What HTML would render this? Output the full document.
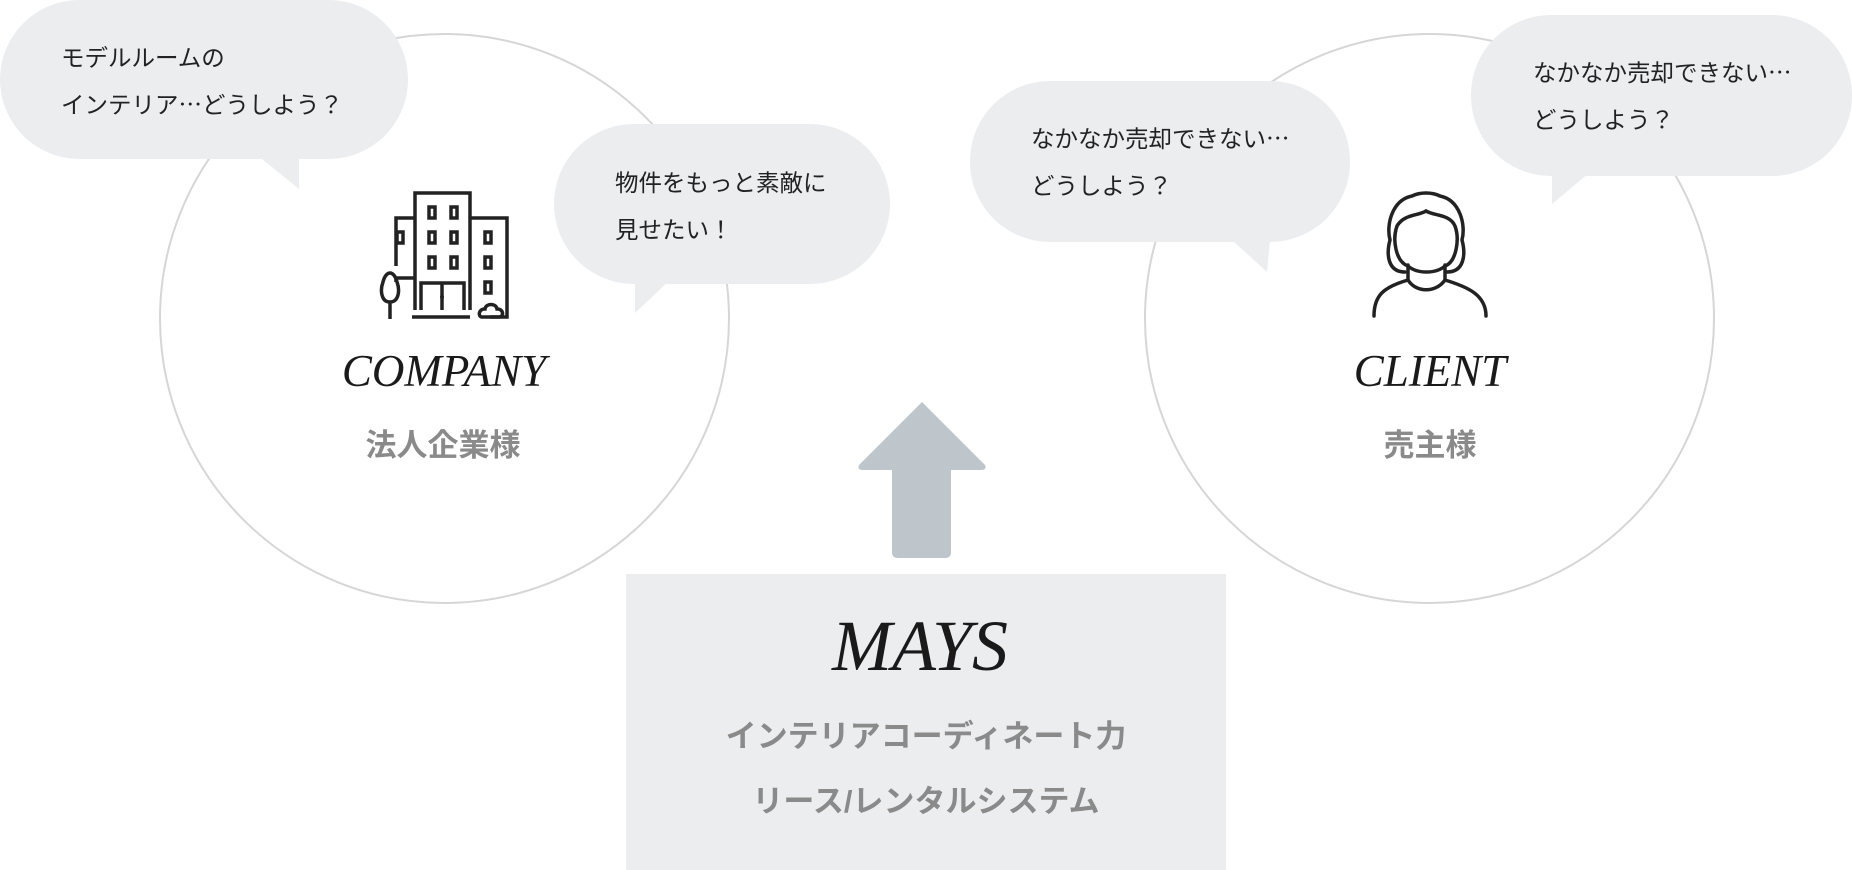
<!DOCTYPE html>
<html><head><meta charset="utf-8"><style>
body{margin:0;width:1852px;height:870px;background:#fff;position:relative;overflow:hidden;font-family:"Liberation Sans","Noto Sans CJK JP",sans-serif}
.c{position:absolute;border:2px solid #d6d6d6;border-radius:50%;box-sizing:border-box}
.b{position:absolute;background:#ecedef;border-radius:80px}
.t{position:absolute;font-size:23.5px;color:#222;line-height:47px;white-space:nowrap;font-family:"Noto Sans CJK JP",sans-serif}
.en{position:absolute;font-family:"Liberation Serif",serif;font-style:italic;color:#1a1a1a;text-align:center;transform:translateX(-50%);white-space:nowrap}
.jp{position:absolute;font-weight:bold;color:#8a8a8a;text-align:center;transform:translateX(-50%);white-space:nowrap}
</style></head><body>
<div class="c" style="left:159px;top:33px;width:571px;height:571px"></div>
<div class="c" style="left:1144px;top:33px;width:571px;height:571px"></div>

<svg width="1852" height="870" style="position:absolute;left:0;top:0">
<polygon points="262,159 299,189 299,150" fill="#ecedef"/>
<polygon points="635,280 635,313 670,280" fill="#ecedef"/>
<polygon points="1232,240 1267,272 1270,240" fill="#ecedef"/>
<polygon points="1552,172 1552,204 1590,172" fill="#ecedef"/>
<path d="M922,402 L985,465 Q987,470 981,470 L951,470 L951,552 Q951,558 945,558 L898,558 Q892,558 892,552 L892,470 L863,470 Q857,470 859,465 Z" fill="#bec5cb"/>
<g fill="none" stroke="#222" stroke-width="3.5">
<path d="M415,310 V193 H470 V310"/>
<path d="M396,266 V218 H415"/>
<path d="M396,282 V278 H415"/>
<path d="M470,218 H507 V317 H490"/>
<path d="M412,317 H470"/>
<path d="M421,310 V283 H464 V310"/><path d="M442,283 V310"/>
<rect x="429" y="207" width="6" height="11"/><rect x="451" y="207" width="6" height="11"/>
<rect x="429" y="232" width="6" height="11"/><rect x="451" y="232" width="6" height="11"/>
<rect x="429" y="257" width="6" height="11"/><rect x="451" y="257" width="6" height="11"/>
<rect x="397" y="232" width="6" height="11"/>
<rect x="485" y="232" width="6" height="11"/><rect x="485" y="257" width="6" height="11"/><rect x="485" y="282" width="6" height="11"/>
<path d="M390,319 V302 M390,302 C381,302 380,290 383,282 C386,270 394,270 397,282 C400,290 399,302 390,302"/>
<path d="M482,317 C478,317 478,309 485,309 C486,303 496,303 497,309 C504,309 504,317 499,317 Z"/>
</g>
<circle cx="442" cy="297" r="2" fill="#222"/>
<g fill="none" stroke="#222" stroke-width="3.5" stroke-linecap="round">
<path d="M1374,316 C1374,295 1384,287 1408,280 C1416,293 1436,293 1445,280 C1468,287 1486,295 1486,316"/>
<path d="M1408,280 V265 M1445,280 V265"/>
<path d="M1408,266 C1396,262 1392,240 1397,226 C1404,214 1418,216 1426,211 C1434,216 1450,214 1455,226 C1460,240 1456,262 1445,266 C1436,274 1417,274 1408,266"/>
<path d="M1405,272 C1388,272 1386,255 1390,240 C1386,225 1392,200 1412,196 C1420,192 1432,192 1440,196 C1460,200 1466,225 1462,240 C1466,255 1464,272 1447,272"/>
</g>
</svg>

<div class="b" style="left:0;top:0;width:408px;height:159px"></div>
<div class="b" style="left:554px;top:124px;width:336px;height:160px"></div>
<div class="b" style="left:970px;top:81px;width:380px;height:161px"></div>
<div class="b" style="left:1471px;top:15px;width:381px;height:161px"></div>

<div class="t" style="left:61px;top:33px">モデルルームの<br>インテリア…どうしよう？</div>
<div class="t" style="left:615px;top:158px">物件をもっと素敵に<br>見せたい！</div>
<div class="t" style="left:1031px;top:114px">なかなか売却できない…<br>どうしよう？</div>
<div class="t" style="left:1533px;top:48px">なかなか売却できない…<br>どうしよう？</div>

<div class="en" style="left:444px;top:345px;font-size:45px">COMPANY</div>
<div class="jp" style="left:443px;top:420px;font-size:31px">法人企業様</div>
<div class="en" style="left:1430px;top:345px;font-size:45px">CLIENT</div>
<div class="jp" style="left:1430px;top:420px;font-size:31px">売主様</div>

<div style="position:absolute;left:626px;top:574px;width:600px;height:296px;background:#ecedef"></div>
<div class="en" style="left:920px;top:605px;font-size:72px">MAYS</div>
<div class="jp" style="left:926px;top:711px;font-size:31px">インテリアコーディネート力</div>
<div class="jp" style="left:926px;top:776px;font-size:31px">リース/レンタルシステム</div>
</body></html>
